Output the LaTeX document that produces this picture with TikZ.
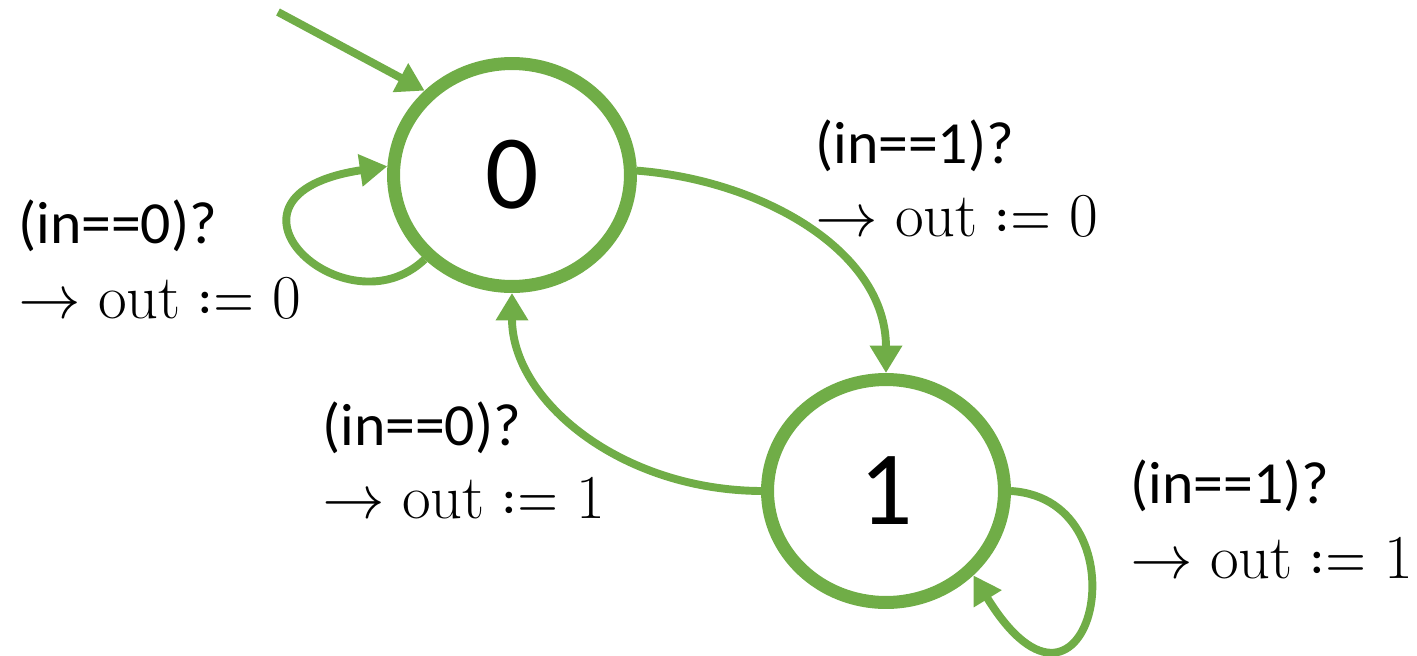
\documentclass[tikz,border=0pt]{standalone}
\usepackage{fontspec}
\setmainfont{Carlito}
\newfontfamily\lmr{Latin Modern Roman}
\newfontfamily\lmm{Latin Modern Math}
\usetikzlibrary{shapes.geometric,arrows.meta}
\definecolor{ogreen}{HTML}{70AD47}
\tikzset{
  state/.style={ellipse, draw=ogreen, line width=7.4pt, minimum width=4.74cm, minimum height=4.46cm, inner sep=0pt, font=\fontsize{60}{72}\selectfont},
  edge/.style={draw=ogreen, line width=4.5pt, -{Triangle[length=0.55cm,width=0.62cm]}},
  lbl/.style={anchor=base west, inner sep=0pt, font=\fontsize{34}{42}\selectfont},
  lblb/.style={anchor=base west, inner sep=0pt, font=\fontsize{35.5}{42}\selectfont}
}
\newcommand{\outeq}[1]{{\lmm →}\hspace{0.28em}{\lmr out}\hspace{0.28em}{\lmm ≔}\hspace{0.28em}{\lmr #1}}
\begin{document}
\begin{tikzpicture}[x=0.02cm,y=-0.02cm]
\useasboundingbox (0,0) rectangle (1417,656);
\node[state] (n0) at (512,175) {0};
\node[state] (n1) at (886,491) {1};
\coordinate (init) at (278,12);
\draw[edge] (init) -- (n0.136);
\draw[edge] (n0.224) .. controls (345,335) and (195,195) .. (n0.176);
\draw[edge] (n0.2) .. controls (760,180) and (886,250) .. (n1.90);
\draw[edge] (n1.180) .. controls (620,490) and (512,400) .. (n0.270);
\draw[edge] (n1.0) .. controls (1150,500) and (1090,765) .. (n1.316);
\node[lbl] (a1) at (18,243) {(in==0)?};
\node[lblb] (a2) at (18,318) {\outeq{0}};
\node[lbl] (b1) at (815,163) {(in==1)?};
\node[lblb] (b2) at (815,236) {\outeq{0}};
\node[lbl] (c1) at (322,445) {(in==0)?};
\node[lblb] (c2) at (322,518) {\outeq{1}};
\node[lbl] (d1) at (1130,503) {(in==1)?};
\node[lblb] (d2) at (1130,578) {\outeq{1}};
\end{tikzpicture}
\end{document}
